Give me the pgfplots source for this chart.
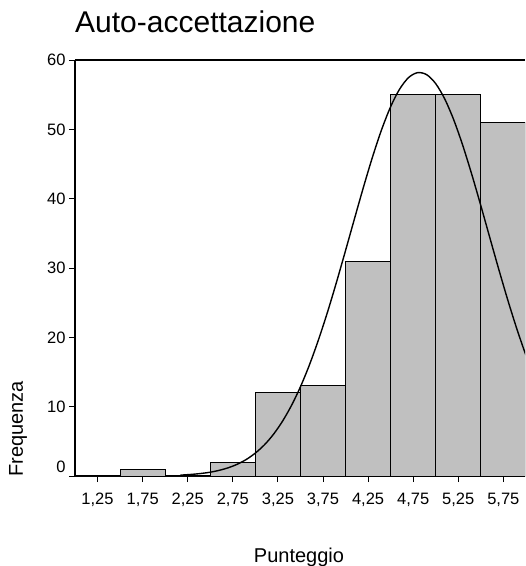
\documentclass[border=0pt]{standalone}
\usepackage{pgfplots}
\pgfplotsset{compat=1.18}
\usepackage{fontspec}
\setmainfont{Liberation Sans}
\definecolor{barfill}{RGB}{192,192,192}

\begin{document}
\begin{tikzpicture}
\begin{axis}[
  scale only axis,
  width=450pt, height=416pt,
  xmin=1.0, xmax=5.99,
  ymin=0, ymax=60,
  axis x line=box, axis y line=left,
  axis line style={line width=1.3pt, -},
  xtick={1.25,1.75,2.25,2.75,3.25,3.75,4.25,4.75,5.25,5.75},
  xticklabels={{1,25},{1,75},{2,25},{2,75},{3,25},{3,75},{4,25},{4,75},{5,25},{5,75}},
  ytick={10,20,30,40,50,60},
  extra y ticks={0},
  extra y tick style={yticklabel style={yshift=9pt}},
  xtick pos=bottom, ytick pos=left,
  tick align=outside,
  major tick length=6pt,
  every tick/.style={black, line width=0.9pt},
  /pgf/number format/assume math mode=true,
  tick label style={font=\fontsize{16.5}{19}\selectfont},
  xticklabel style={anchor=base, yshift=-22pt},
  clip=true,
]
% histogram of the scores, bin width 0.5
\addplot[ybar, bar width=0.5, fill=barfill, draw=black, line width=0.9pt]
  coordinates {
  (1.25,0) (1.75,1) (2.25,0) (2.75,2) (3.25,12)
  (3.75,13) (4.25,31) (4.75,55) (5.25,55) (5.75,51)
  };
% fitted normal curve
\addplot[black, line width=1.4pt, smooth] coordinates {
  (2.17,0.13) (2.2,0.15) (2.3,0.24) (2.4,0.37) (2.5,0.55) (2.6,0.82) (2.7,1.19)
  (2.8,1.70) (2.9,2.39) (3.0,3.31) (3.1,4.49) (3.2,6.00) (3.3,7.88)
  (3.4,10.16) (3.5,12.87) (3.6,16.04) (3.7,19.65) (3.8,23.64) (3.9,27.97)
  (4.0,32.52) (4.1,37.15) (4.2,41.72) (4.3,46.05) (4.4,49.96) (4.5,53.26)
  (4.6,55.81) (4.7,57.48) (4.8,58.18) (4.9,57.88) (5.0,56.59) (5.1,54.38)
  (5.2,51.36) (5.3,47.67) (5.4,43.49) (5.5,39.00) (5.6,34.37) (5.7,29.77)
  (5.8,25.34) (5.9,21.20) (6.0,17.43) (6.1,14.09)
  };
\end{axis}
\node[anchor=base west, inner sep=0pt, font=\fontsize{30}{36}\selectfont] at (0pt,443pt) {Auto-accettazione};
\node[anchor=base, inner sep=0pt, font=\fontsize{20}{24}\selectfont] at (224pt,-86pt) {Punteggio};
\node[anchor=base west, rotate=90, inner sep=0pt, font=\fontsize{20}{24}\selectfont] at (-52pt,-1pt) {Frequenza};
\pgfresetboundingbox
\path (-75pt,-90pt) rectangle (451pt,476pt);
\end{tikzpicture}
\end{document}
